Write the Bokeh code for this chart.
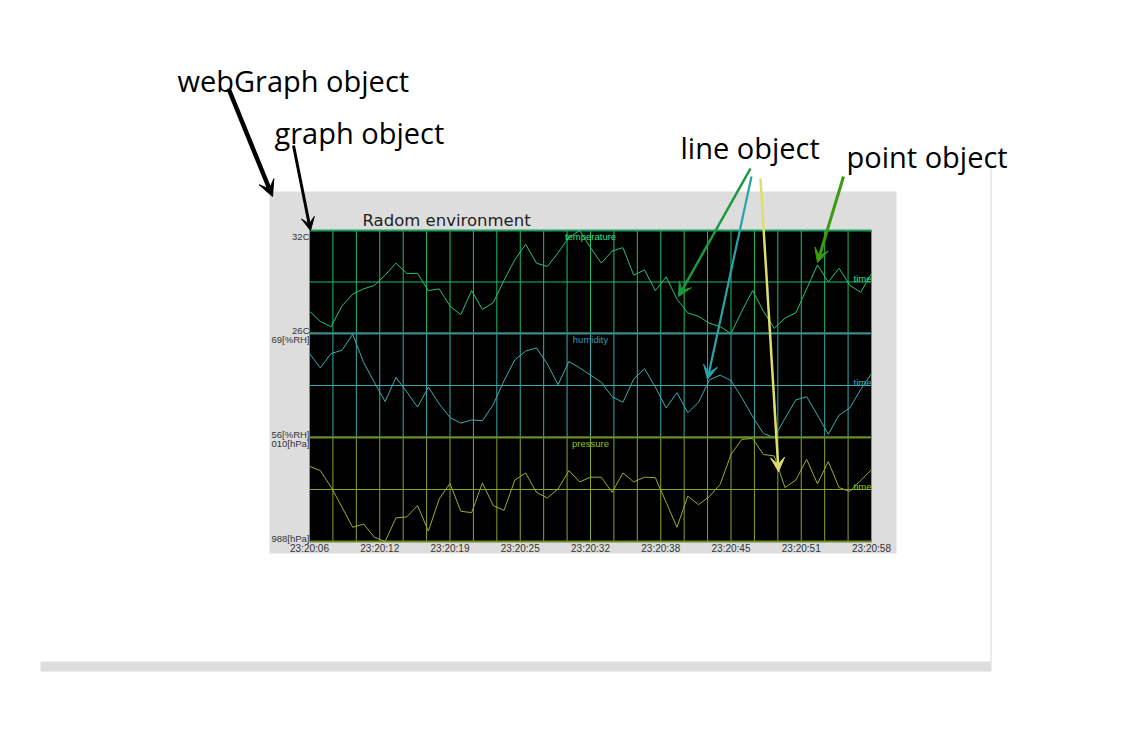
from bokeh.plotting import figure
from bokeh.models import Range1d, Arrow, VeeHead
from bokeh.core.properties import value
from bokeh.embed import file_html
from bokeh.resources import INLINE

# ---------------- data ----------------
seconds = list(range(53))  # one sample per second, 23:20:06 .. 23:20:58
temperature = [27.3, 26.7, 26.4, 27.6, 28.3, 28.6, 28.8, 29.4, 30.1, 29.5,
               29.5, 28.5, 28.6, 27.6, 27.1, 28.5, 27.4, 27.8, 29.1, 30.3,
               31.2, 30.1, 29.9, 30.7, 31.6, 32.0, 31.0, 30.1, 30.8, 31.0,
               29.4, 29.7, 28.5, 29.3, 28.0, 27.2, 27.0, 26.6, 26.4, 26.0,
               27.3, 28.5, 27.3, 26.3, 26.9, 27.2, 28.6, 30.0, 29.0, 29.8,
               28.8, 28.4, 29.5]
humidity = [66.5, 64.7, 66.5, 66.9, 68.9, 65.4, 62.9, 60.5, 63.5, 61.7,
            59.8, 62.3, 60.2, 58.5, 57.8, 58.2, 58.1, 60.1, 63.1, 65.7,
            66.8, 67.2, 65.2, 62.6, 65.5, 64.7, 63.8, 62.9, 61.1, 60.4,
            63.3, 64.6, 62.3, 59.7, 61.6, 59.1, 60.4, 63.2, 63.8, 63.1,
            61.0, 58.6, 56.5, 56.0, 58.4, 60.7, 61.1, 58.8, 56.4, 58.8,
            59.7, 62.0, 64.0]
pressure = [1003.9, 1003.0, 999.5, 995.3, 991.0, 991.7, 988.9, 988.0, 993.0, 993.2,
            995.6, 990.2, 997.0, 1000.3, 994.4, 994.1, 1000.4, 995.6, 994.6, 1001.0,
            1002.5, 998.4, 997.2, 999.1, 1003.0, 1000.6, 1001.6, 1001.6, 998.4, 1002.5,
            1000.6, 1001.6, 1001.5, 996.3, 991.0, 997.6, 995.8, 997.5, 1000.1, 1006.4,
            1009.6, 1009.8, 1006.4, 1006.1, 999.4, 1001.0, 1005.4, 1000.2, 1004.9, 999.4,
            998.6, 1000.9, 1003.2]
tick_secs = [0, 6.5, 13, 19.5, 26, 32.5, 39, 45.5, 52]
tick_labels = ["23:20:06", "23:20:12", "23:20:19", "23:20:25", "23:20:32",
               "23:20:38", "23:20:45", "23:20:51", "23:20:58"]
panel_names = ["temperature", "humidity", "pressure"]
panel_min = [26, 56, 988]
panel_max = [32, 69, 1010]
panel_min_labels = ["26C", "56[%RH]", "988[hPa]"]
panel_max_labels = ["32C", "69[%RH]", "010[hPa]"]
series = [temperature, humidity, pressure]

# ---------------- layout / style ----------------
W, H = 1118, 740
X0, Y0 = 0, 0                           # canvas origin in page px
PL, PR = 309, 871                       # plot area left / right (page px)
panel_px = [(230, 333), (333, 437), (437, 541)]
grid_col = ["#20bc6c", "#3aa9a9", "#86a52a"]
line_col = ["#25c273", "#3aadad", "#94b02c"]
border_col = ["#1f9c5c", "#3a8c8c", "#6f8c22"]
title_col = ["#2ee283", "#3598bd", "#8fc222"]
time_col = ["#2ee283", "#3ab4b4", "#8fc222"]
SMALL = value("Liberation Sans")
BIG = value("Open Sans")

p = figure(width=W, height=H, x_range=Range1d(X0, X0 + W), y_range=Range1d(Y0 + H, Y0),
           output_backend="svg", toolbar_location=None, min_border=0,
           x_axis_location=None, y_axis_location=None,
           background_fill_color="white", border_fill_color="white",
           outline_line_color=None)
p.grid.visible = False


def lin_range(va, pa, vb, pb, ps, pe):
    k = (vb - va) / (pb - pa)
    return Range1d(start=va + (ps - pa) * k, end=va + (pe - pa) * k)


t_end = seconds[-1]
p.extra_x_ranges = {"t": lin_range(0, PL, t_end, PR, X0, X0 + W)}
yr = {}
for name, vmin, vmax, (top, bot) in zip(panel_names, panel_min, panel_max, panel_px):
    yr[name] = lin_range(vmin, bot, vmax, top, Y0 + H, Y0)
p.extra_y_ranges = yr

# page decorations
p.quad(left=[40], right=[991], top=[661], bottom=[671], fill_color="#dddddd", line_color=None)
p.segment(x0=[990.5], y0=[168], x1=[990.5], y1=[661], line_color="#d8d8d8", line_width=1)
p.quad(left=[269], right=[896], top=[191], bottom=[553], fill_color="#dddddd", line_color=None)

n_grid = 24
grid_secs = [k * t_end / n_grid for k in range(n_grid + 1)]

for i, name in enumerate(panel_names):
    vmin, vmax = panel_min[i], panel_max[i]
    mid = (vmin + vmax) / 2
    kw = dict(x_range_name="t", y_range_name=name)
    p.quad(left=[0], right=[t_end], bottom=[vmin], top=[vmax], fill_color="black",
           line_color=None, **kw)
    p.segment(x0=grid_secs, y0=[vmin] * len(grid_secs), x1=grid_secs, y1=[vmax] * len(grid_secs),
              line_color=grid_col[i], line_width=1, **kw)
    p.segment(x0=[0], y0=[mid], x1=[t_end], y1=[mid], line_color=grid_col[i], line_width=1.2, **kw)
    p.segment(x0=[0, 0], y0=[vmin, vmax], x1=[t_end, t_end], y1=[vmin, vmax],
              line_color=border_col[i], line_width=2.2, **kw)
    p.line(seconds, series[i], line_color=line_col[i], line_width=1, **kw)

for i, name in enumerate(panel_names):
    vmin, vmax = panel_min[i], panel_max[i]
    mid = (vmin + vmax) / 2
    kw = dict(x_range_name="t", y_range_name=name)
    p.text(x=[t_end / 2], y=[vmax], text=[name], text_font=SMALL, text_font_size="9.5px",
           text_color=title_col[i], text_align="center", text_baseline="top", **kw)
    p.text(x=[t_end], y=[mid], text=["time"], text_font=SMALL, text_font_size="9.5px",
           text_color=time_col[i], text_align="right", text_baseline="middle",
           y_offset=-3.5, **kw)
    p.text(x=[0], y=[vmax], text=[panel_max_labels[i]], text_font=SMALL, text_font_size="9.5px",
           text_color="#333333", text_align="right", text_baseline="top", **kw)
    p.text(x=[0], y=[vmin], text=[panel_min_labels[i]], text_font=SMALL, text_font_size="9.5px",
           text_color="#333333", text_align="right", text_baseline="middle",
           y_offset=-3.5, **kw)

p.text(x=tick_secs, y=[548] * len(tick_secs), text=tick_labels, text_font=SMALL,
       text_font_size="10px", text_color="#333333", text_align="center",
       text_baseline="middle", x_range_name="t")

p.text(x=[362], y=[220], text=["Radom environment"], text_font=value("DejaVu Sans"),
       text_font_size="16.5px", text_color="#1e1e1e", text_baseline="middle")

# callout labels
p.text(x=[177, 274, 680, 846], y=[80, 132, 147, 156],
       text=["webGraph object", "graph object", "line object", "point object"],
       text_font=BIG, text_font_size="29px", text_color="black", text_baseline="middle")

# callout arrows
arrows = [
    (228, 88, 272, 196, "black", 4.5, 16),
    (293, 145, 310, 230, "black", 3, 13),
    (750, 168, 678, 296, "#1a9a3c", 2.5, 14),
    (751, 176, 707, 379, "#2aa2a6", 2.2, 14),
    (760, 178, 778, 471, "#dede6e", 2.5, 14),
    (843, 176, 817, 262, "#3a9c10", 3, 14),
]
for xs, ys, xe, ye, col, lw, hs in arrows:
    p.add_layout(Arrow(end=VeeHead(size=hs, fill_color=col, line_color=col, line_width=1),
                       x_start=xs, y_start=ys, x_end=xe, y_end=ye,
                       line_color=col, line_width=lw))

open("out.html", "w").write(file_html(p, INLINE))
